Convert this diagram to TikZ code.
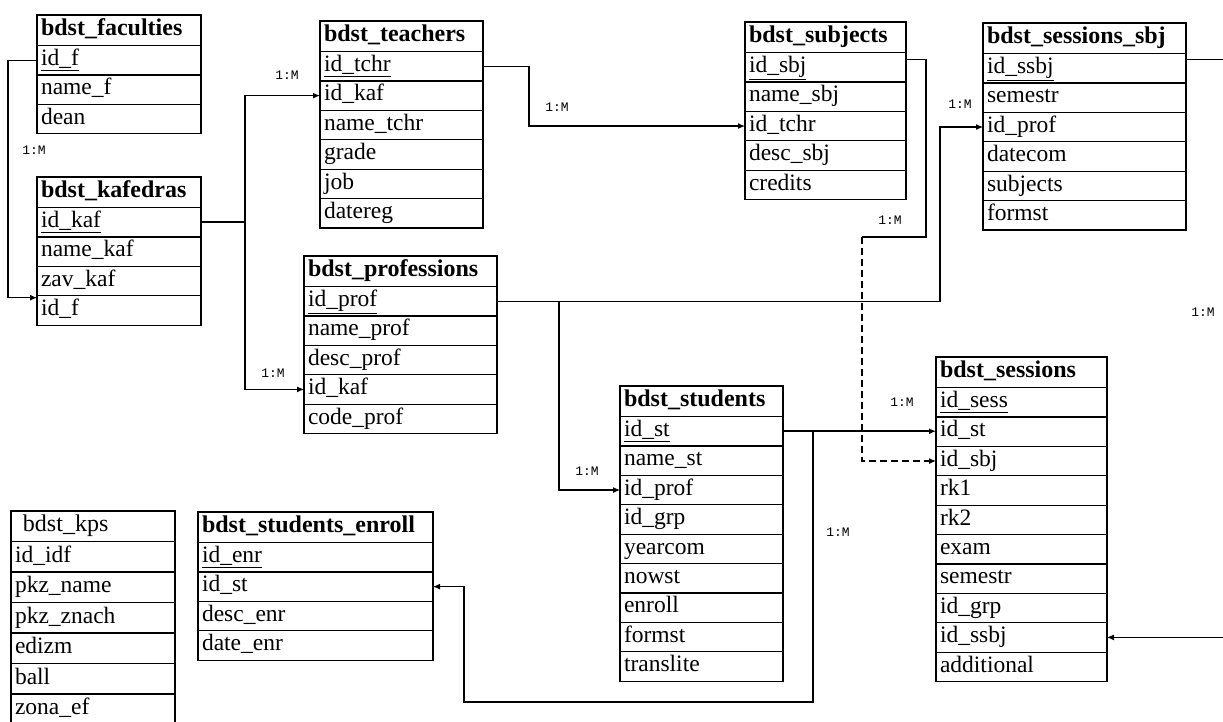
\documentclass[tikz,border=0pt]{standalone}
\usepackage{fontspec}
\setmainfont{Liberation Serif}
\newfontfamily\relfont{Liberation Mono}
\usetikzlibrary{arrows.meta}

\def\headh{30.5}
\def\rowh{29.4}
\newcommand{\erdtable}[6]{%
  \pgfmathsetmacro\tabw{#4-8}
  \node[tabhead, text width=\tabw pt] (#1) at (#2,#3) {#5};
  \foreach \rowid/\rowtxt [count=\i] in {#6} {
    \node[tabrow, text width=\tabw pt] (#1-\rowid) at (#2,{#3+\headh+(\i-1)*\rowh}) {\rowtxt};
    \ifnum\i=1 \draw[line width=1.8pt] (#1-\rowid.south west) -- (#1-\rowid.south east);\fi
  }
  \draw[line width=1.8pt] (#1.south west) -- (#1.south east);
}

\begin{document}
\begin{tikzpicture}[x=1pt, y=-1pt,
  tabhead/.style={draw, line width=1.2pt, anchor=north west, outer sep=0pt, inner xsep=4pt, inner ysep=0pt,
    minimum height=\headh pt, text height=17pt, text depth=6pt, font=\bfseries\fontsize{24}{24}\selectfont},
  tabrow/.style={draw, line width=1.2pt, anchor=north west, outer sep=0pt, inner xsep=4pt, inner ysep=0pt,
    minimum height=\rowh pt, text height=16pt, text depth=5.5pt, font=\fontsize{23.5}{24}\selectfont},
  link/.style={line width=1.1pt},
  arr/.style={link, -{Latex[length=7pt,width=6pt]}},
  rel/.style={font=\relfont\fontsize{13}{13}\selectfont}]
\useasboundingbox (0,0) rectangle (1223,721);
\clip (0,0) rectangle (1223,721);

\erdtable{fac}{37}{15}{164}{bdst\_faculties}{idf/\underline{id\_f}, namef/name\_f, dean/dean}
\erdtable{kaf}{37}{177}{164}{bdst\_kafedras}{idkaf/\underline{id\_kaf}, namekaf/name\_kaf, zavkaf/zav\_kaf, idf/id\_f}
\erdtable{tch}{320}{21}{163}{bdst\_teachers}{idtchr/\underline{id\_tchr}, idkaf/id\_kaf, nametchr/name\_tchr, grade/grade, job/job, datereg/datereg}
\erdtable{sub}{745}{22}{161}{bdst\_subjects}{idsbj/\underline{id\_sbj}, namesbj/name\_sbj, idtchr/id\_tchr, descsbj/desc\_sbj, credits/credits}
\erdtable{ssb}{983}{23}{203}{bdst\_sessions\_sbj}{idssbj/\underline{id\_ssbj}, semestr/semestr, idprof/id\_prof, datecom/datecom, subjects/subjects, formst/formst}
\erdtable{pro}{304}{256}{193}{bdst\_professions}{idprof/\underline{id\_prof}, nameprof/name\_prof, descprof/desc\_prof, idkaf/id\_kaf, codeprof/code\_prof}
\erdtable{stu}{620}{386}{163}{bdst\_students}{idst/\underline{id\_st}, namest/name\_st, idprof/id\_prof, idgrp/id\_grp, yearcom/yearcom, nowst/nowst, enroll/enroll, formst/formst, translite/translite}
\erdtable{ses}{936}{357}{171}{bdst\_sessions}{idsess/\underline{id\_sess}, idst/id\_st, idsbj/id\_sbj, rka/rk1, rkb/rk2, exam/exam, semestr/semestr, idgrp/id\_grp, idssbj/id\_ssbj, additional/additional}
\erdtable{enr}{198}{512}{235}{bdst\_students\_enroll}{idenr/\underline{id\_enr}, idst/id\_st, descenr/desc\_enr, dateenr/date\_enr}
\def\rowh{30.5}
\erdtable{kps}{11}{511}{164}{\mdseries\ bdst\_kps}{ididf/id\_idf, pkzname/pkz\_name, pkzznach/pkz\_znach, edizm/edizm, ball/ball, zonaef/zona\_ef}

\coordinate (sbjbend) at (862,237);
\coordinate (stbot) at (464,702);

\draw[arr] (fac-idf.west) -- ++(-29,0) |- ([yshift=-2pt]kaf-idf.north west);
\draw[arr, line width=1.6pt] (kaf-idkaf.east) -- ++(44,0) |- (tch-idkaf.west);
\draw[arr] (kaf-idkaf.east) -- ++(44,0) |- (pro-idkaf.west);
\draw[arr] (tch-idtchr.east) -- ++(46,0) |- (sub-idtchr.west);
\draw[link] ([yshift=8pt]sub-idsbj.east) -- ++(20,0) |- (sbjbend);
\draw[arr, dash pattern=on 7pt off 4pt] (sbjbend) |- (ses-idsbj.west);
\draw[arr] ([yshift=9pt]ssb-idssbj.east) -- ++(50,0) |- (ses-idssbj.east);
\draw[arr] (pro-idprof.east) -- ++(443,0) |- (ssb-idprof.west);
\draw[arr] (pro-idprof.east) -- ++(62,0) |- (stu-idprof.west);
\draw[arr, line width=1.8pt] (stu-idst.east) -- (stu-idst.east -| ses-idst.west);
\draw[arr] (stu-idst.east) -- ++(30,0) |- (stbot) |- (enr-idst.east);

\node[rel] (m1) at (34,150) {1:M};
\node[rel] (m2) at (287,75) {1:M};
\node[rel] (m3) at (557,107) {1:M};
\node[rel] (m4) at (273,373) {1:M};
\node[rel] (m5) at (890,220) {1:M};
\node[rel] (m6) at (960,104) {1:M};
\node[rel] (m7) at (1203,312) {1:M};
\node[rel] (m8) at (587,471) {1:M};
\node[rel] (m9) at (902,402) {1:M};
\node[rel] (m10) at (838,532) {1:M};
\end{tikzpicture}
\end{document}
